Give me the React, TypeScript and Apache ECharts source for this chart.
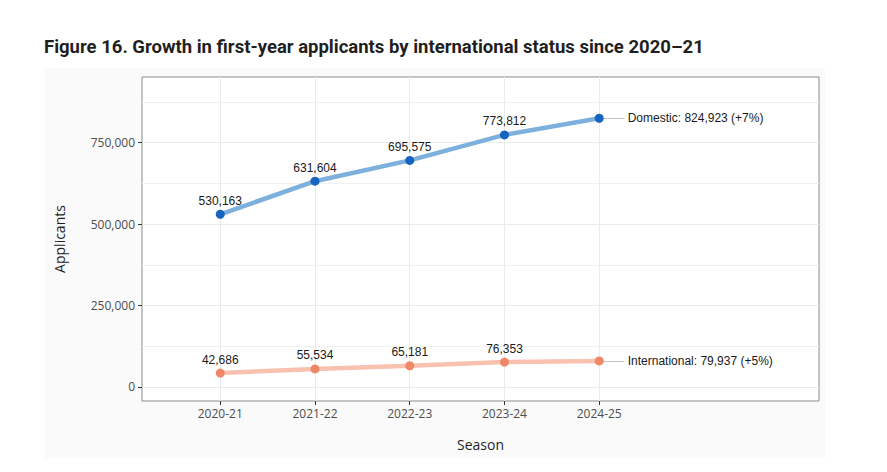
import React, { useEffect, useRef } from "react";
import * as echarts from "echarts";

const titleText = "Figure 16. Growth in first-year applicants by international status since 2020–21";
const seasons = ["2020-21", "2021-22", "2022-23", "2023-24", "2024-25"];
const domestic = [530163, 631604, 695575, 773812, 824923];
const international = [42686, 55534, 65181, 76353, 79937];
const seriesNames = ["Domestic", "International"];
const endChange = ["+7%", "+5%"];
const yTicks = [0, 250000, 500000, 750000];
const yMinor = [125000, 375000, 625000, 875000];
const xTicks = [0, 1, 2, 3, 4];

const fmt = (v: number) => v.toLocaleString("en-US");

const UI_FONT = "'Open Sans', 'Noto Sans', sans-serif";
const LABEL_FONT = "'Liberation Sans', Arial, sans-serif";

function makeSeries(name: string, values: number[], change: string, lineColor: string, pointColor: string) {
  const last = values.length - 1;
  return {
    name,
    type: "line",
    z: 3,
    symbol: "circle",
    symbolSize: 9,
    lineStyle: { color: lineColor, width: 4.5 },
    itemStyle: { color: pointColor },
    label: {
      show: true,
      position: "top",
      distance: 3,
      color: "#1a1a1a",
      fontFamily: LABEL_FONT,
      fontSize: 12,
      formatter: (p: any) => fmt(p.value[1]),
    },
    data: values.map((v, i) =>
      i === last
        ? {
            value: [i, v],
            label: {
              position: "right",
              distance: 24,
              formatter: `${name}: ${fmt(v)} (${change})`,
            },
          }
        : { value: [i, v] }
    ),
    markLine: {
      silent: true,
      z: 1,
      symbol: "none",
      label: { show: false },
      lineStyle: { color: "#c4c4c4", width: 1, type: "solid" },
      data: [[{ coord: [last, values[last]] }, { coord: [last + 0.265, values[last]] }]],
    },
  };
}

export default function App() {
  const ref = useRef<HTMLDivElement>(null);
  useEffect(() => {
    if (!ref.current) return;
    const chart = echarts.init(ref.current, undefined, { renderer: "svg" });
    chart.setOption({
      animation: false,
      title: {
        text: titleText,
        left: 39,
        top: 32,
        textStyle: { fontFamily: "Roboto, sans-serif", fontWeight: "bold", fontSize: 18.5, color: "#1f1f1f" },
      },
      grid: {
        left: 142,
        right: 68,
        top: 77,
        bottom: 71,
        show: true,
        backgroundColor: "#ffffff",
        borderColor: "#8a8a8a",
        borderWidth: 1,
      },
      xAxis: {
        type: "value",
        min: -0.826,
        max: 6.32,
        position: "bottom",
        name: "Season",
        nameLocation: "middle",
        nameGap: 36,
        nameTextStyle: { fontFamily: UI_FONT, fontSize: 14, color: "#1f1f1f" },
        axisLine: { show: false, onZero: false },
        axisTick: { show: true, length: 4, customValues: xTicks, lineStyle: { color: "#333333" } },
        axisLabel: {
          customValues: xTicks,
          margin: 6,
          fontFamily: UI_FONT,
          fontSize: 12,
          color: "#4d4d4d",
          formatter: (v: number) => seasons[Math.round(v)] ?? "",
        },
        splitLine: { show: true, lineStyle: { color: "#ebebeb", width: 1 } },
      },
      yAxis: [
        {
          type: "value",
          min: -43000,
          max: 951500,
          position: "left",
          name: "Applicants",
          nameLocation: "middle",
          nameGap: 76,
          nameRotate: 90,
          nameTextStyle: { fontFamily: UI_FONT, fontSize: 14, color: "#1f1f1f" },
          axisLine: { show: false, onZero: false },
          axisTick: { show: true, length: 4, customValues: yTicks, lineStyle: { color: "#333333" } },
          axisLabel: {
            customValues: yTicks,
            margin: 7,
            fontFamily: UI_FONT,
            fontSize: 12,
            color: "#4d4d4d",
            formatter: (v: number) => fmt(v),
          },
          splitLine: { show: true, lineStyle: { color: "#ebebeb", width: 1 } },
        },
        {
          type: "value",
          min: -43000,
          max: 951500,
          position: "left",
          axisLine: { show: false, onZero: false },
          axisTick: { show: false, customValues: yMinor },
          axisLabel: { show: false, customValues: yMinor },
          splitLine: { show: true, lineStyle: { color: "#f1f1f1", width: 1 } },
        },
      ],
      series: [
        makeSeries(seriesNames[0], domestic, endChange[0], "#7db0dc", "#1565c0"),
        makeSeries(seriesNames[1], international, endChange[1], "#f8c1b0", "#f08767"),
      ],
    });
    return () => chart.dispose();
  }, []);
  return (
    <div style={{ position: "absolute", left: 0, top: 0, width: 887, height: 472, background: "#ffffff" }}>
      <div style={{ position: "absolute", left: 45, top: 68, width: 780, height: 390, background: "#fafafa" }} />
      <div ref={ref} style={{ position: "absolute", left: 0, top: 0, width: 887, height: 472 }} />
    </div>
  );
}
